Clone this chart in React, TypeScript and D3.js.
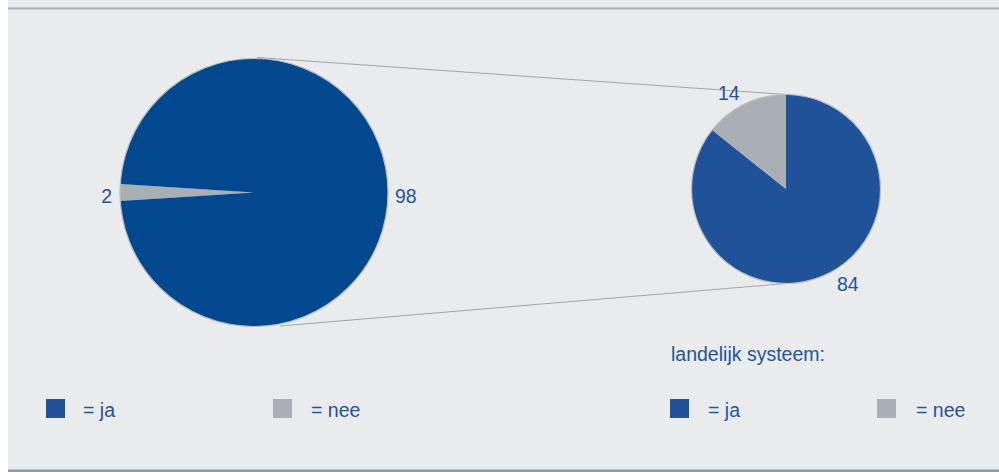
import React from "react";
import * as d3 from "d3";

const categories = ["ja", "nee"];
const totalValues = [98, 2];
const landelijkValues = [84, 14];
const totalLabels = ["98", "2"];
const landelijkLabels = ["84", "14"];
const legendTitle = "landelijk systeem:";

const W = 999;
const H = 472;
const BG = "#eaebed";
const TEXT = "#1f5599";
const GRAY = "#a9afb5";
const BLUE_BIG = "#02488f";
const BLUE_SMALL = "#20529a";
const FONT = "'Liberation Sans', Arial, sans-serif";

export default function App() {
  const rad = Math.PI / 180;
  // big pie
  const bigC = { x: 254, y: 192.5 };
  const bigR = 134;
  const smallC = { x: 786, y: 189 };
  const smallR = 94.5;

  const bigFrac = totalValues[1] / d3.sum(totalValues);
  const bigPie = d3
    .pie<number>()
    .sort(null)
    .value((d) => d)
    .startAngle((270 - bigFrac * 180) * rad)
    .endAngle((270 - bigFrac * 180 + 360) * rad);
  // order nee first so it's centred on the left
  const bigArcs = bigPie([totalValues[1], totalValues[0]]);
  const bigColors = [GRAY, BLUE_BIG];

  const smallPie = d3
    .pie<number>()
    .sort(null)
    .value((d) => d)
    .startAngle(0)
    .endAngle(2 * Math.PI);
  const smallArcs = smallPie(landelijkValues);
  const smallColors = [BLUE_SMALL, GRAY];

  const bigArc = d3.arc<d3.PieArcDatum<number>>().innerRadius(0).outerRadius(bigR);
  const smallArc = d3.arc<d3.PieArcDatum<number>>().innerRadius(0).outerRadius(smallR);

  const fs = 19.5;
  const legendLeft = [
    { x: 46, color: BLUE_SMALL, label: "= " + categories[0], tx: 83 },
    { x: 273, color: GRAY, label: "= " + categories[1], tx: 311 },
  ];
  const legendRight = [
    { x: 670, color: BLUE_SMALL, label: "= " + categories[0], tx: 708 },
    { x: 877, color: GRAY, label: "= " + categories[1], tx: 916 },
  ];

  return (
    <svg
      width={W}
      height={H}
      style={{ position: "absolute", left: 0, top: 0, display: "block" }}
      fontFamily={FONT}
    >
      <rect x={0} y={0} width={W} height={H} fill="#ffffff" />
      <rect x={8} y={0} width={W - 8} height={H} fill={BG} />
      <rect x={8} y={7.5} width={W - 8} height={2} fill="#aab4b7" />
      <rect x={8} y={469.5} width={W - 8} height={3} fill="#8f9b9f" />

      {/* connector lines */}
      <line x1={257} y1={57.5} x2={smallC.x} y2={smallC.y - smallR} stroke="#9ea6ab" strokeWidth={1} />
      <line x1={280} y1={326} x2={smallC.x} y2={smallC.y + smallR} stroke="#9ea6ab" strokeWidth={1} />

      <g transform={`translate(${bigC.x},${bigC.y})`}>
        {bigArcs.map((a, i) => (
          <path key={i} d={bigArc(a) || ""} fill={bigColors[i]} />
        ))}
        <circle r={bigR} fill="none" stroke="#b9bdc1" strokeWidth={1.2} />
      </g>
      <g transform={`translate(${smallC.x},${smallC.y})`}>
        {smallArcs.map((a, i) => (
          <path key={i} d={smallArc(a) || ""} fill={smallColors[i]} />
        ))}
        <circle r={smallR} fill="none" stroke="#b9bdc1" strokeWidth={1.2} />
      </g>

      <g fill={TEXT} fontSize={fs}>
        <text x={395} y={203}>{totalLabels[0]}</text>
        <text x={112} y={203} textAnchor="end">{totalLabels[1]}</text>
        <text x={718} y={100}>{landelijkLabels[1]}</text>
        <text x={837} y={291}>{landelijkLabels[0]}</text>
        <text x={671} y={361}>{legendTitle}</text>
        {[...legendLeft, ...legendRight].map((l, i) => (
          <g key={i}>
            <rect x={l.x} y={399} width={19} height={19} fill={l.color} />
            <text x={l.tx} y={417}>{l.label}</text>
          </g>
        ))}
      </g>
    </svg>
  );
}
